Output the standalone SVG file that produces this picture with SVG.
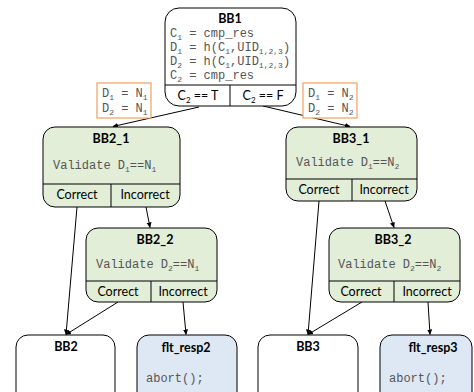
<svg xmlns="http://www.w3.org/2000/svg" width="474" height="392" viewBox="0 0 474 392">
<style>
.box{stroke:#000;stroke-width:1;fill:#fff}
.g{fill:#e2eed8}
.b{fill:#dee8f5}
.ln{stroke:#000;stroke-width:1;fill:none}
.or{fill:#fff;stroke:#f0a060;stroke-width:1.2}
.t{font-family:Lato,"Liberation Sans",sans-serif;font-size:12.5px;fill:#000;text-anchor:middle}
.tb{font-weight:bold}
.m{font-family:"Liberation Mono","Courier New",monospace;font-size:12px;fill:#555}
.s{font-size:8px}
.e{stroke:#000;stroke-width:1;fill:none;marker-end:url(#ah)}
</style>
<defs>
<marker id="ah" markerWidth="6" markerHeight="6" refX="5" refY="3" orient="auto" markerUnits="userSpaceOnUse">
<path d="M0,0.5 L5.5,3 L0,5.5 Z" fill="#000"/>
</marker>
</defs>
<g id="connectors">
<path class="e" d="M199,107 L113,126.5"/>
<path class="e" d="M263,106 L350,126.5"/>
<path class="e" d="M77,207 L66,334.5"/>
<path class="e" d="M146,207 L150,227.5"/>
<path class="e" d="M118,302 L66,334.5"/>
<path class="e" d="M183,302 L186,334.5"/>
<path class="e" d="M319,201 L308,334.5"/>
<path class="e" d="M385,201 L394,227.5"/>
<path class="e" d="M362,302 L308,334.5"/>
<path class="e" d="M428,302 L430,334.5"/>
</g>
<g id="BB1">
<rect class="box" x="165" y="8" width="131" height="98" rx="14"/>
<path class="ln" d="M165,85 H296 M230,85 V106"/>
<text class="t tb" x="230" y="23">BB1</text>
<text class="m" x="170" y="37">C<tspan class="s" dy="3">1</tspan><tspan dy="-3"> = cmp_res</tspan></text>
<text class="m" x="170" y="51">D<tspan class="s" dy="3">1</tspan><tspan dy="-3"> = h(C</tspan><tspan class="s" dy="3">1</tspan><tspan dy="-3">,UID</tspan><tspan class="s" dy="3">1,2,3</tspan><tspan dy="-3">)</tspan></text>
<text class="m" x="170" y="65">D<tspan class="s" dy="3">2</tspan><tspan dy="-3"> = h(C</tspan><tspan class="s" dy="3">1</tspan><tspan dy="-3">,UID</tspan><tspan class="s" dy="3">1,2,3</tspan><tspan dy="-3">)</tspan></text>
<text class="m" x="170" y="79">C<tspan class="s" dy="3">2</tspan><tspan dy="-3"> = cmp_res</tspan></text>
<text class="t" x="198" y="100">C<tspan class="s" dy="3">2</tspan><tspan dy="-3"> == T</tspan></text>
<text class="t" x="263" y="100">C<tspan class="s" dy="3">2</tspan><tspan dy="-3"> == F</tspan></text>
</g>
<g id="cond_left">
<rect class="or" x="97" y="83" width="54" height="35"/>
<text class="m" x="102" y="97">D<tspan class="s" dy="3">1</tspan><tspan dy="-3"> = N</tspan><tspan class="s" dy="3">1</tspan></text>
<text class="m" x="102" y="112">D<tspan class="s" dy="3">2</tspan><tspan dy="-3"> = N</tspan><tspan class="s" dy="3">1</tspan></text>
</g>
<g id="cond_right">
<rect class="or" x="303" y="83" width="54" height="35"/>
<text class="m" x="308" y="97">D<tspan class="s" dy="3">1</tspan><tspan dy="-3"> = N</tspan><tspan class="s" dy="3">2</tspan></text>
<text class="m" x="308" y="112">D<tspan class="s" dy="3">2</tspan><tspan dy="-3"> = N</tspan><tspan class="s" dy="3">2</tspan></text>
</g>
<g id="BB2_1">
<rect class="box g" x="43" y="127" width="137" height="80" rx="12"/>
<path class="ln" d="M43,184 H180 M111,184 V207"/>
<text class="t tb" x="111" y="143">BB2_1</text>
<text class="m" x="53" y="169">Validate D<tspan class="s" dy="3">1</tspan><tspan dy="-3">==N</tspan><tspan class="s" dy="3">1</tspan></text>
<text class="t" x="77" y="199">Correct</text>
<text class="t" x="145" y="199">Incorrect</text>
</g>
<g id="BB3_1">
<rect class="box g" x="286" y="127" width="131" height="74" rx="12"/>
<path class="ln" d="M286,179 H417 M352,179 V201"/>
<text class="t tb" x="351" y="143">BB3_1</text>
<text class="m" x="296" y="166">Validate D<tspan class="s" dy="3">1</tspan><tspan dy="-3">==N</tspan><tspan class="s" dy="3">2</tspan></text>
<text class="t" x="319" y="194">Correct</text>
<text class="t" x="384" y="194">Incorrect</text>
</g>
<g id="BB2_2">
<rect class="box g" x="86" y="228" width="131" height="74" rx="12"/>
<path class="ln" d="M86,281 H217 M151,281 V302"/>
<text class="t tb" x="155" y="244">BB2_2</text>
<text class="m" x="96" y="268">Validate D<tspan class="s" dy="3">2</tspan><tspan dy="-3">==N</tspan><tspan class="s" dy="3">1</tspan></text>
<text class="t" x="118" y="296">Correct</text>
<text class="t" x="183" y="296">Incorrect</text>
</g>
<g id="BB3_2">
<rect class="box g" x="329" y="228" width="131" height="74" rx="12"/>
<path class="ln" d="M329,281 H460 M394,281 V302"/>
<text class="t tb" x="393" y="244">BB3_2</text>
<text class="m" x="338" y="268">Validate D<tspan class="s" dy="3">2</tspan><tspan dy="-3">==N</tspan><tspan class="s" dy="3">2</tspan></text>
<text class="t" x="361" y="296">Correct</text>
<text class="t" x="427" y="296">Incorrect</text>
</g>
<g id="BB2">
<rect class="box" x="16" y="335" width="99" height="75" rx="12"/>
<text class="t tb" x="66" y="351">BB2</text>
</g>
<g id="flt_resp2">
<rect class="box b" x="137" y="335" width="100" height="75" rx="12"/>
<text class="t tb" x="186" y="352">flt_resp2</text>
<text class="m" x="146" y="382">abort();</text>
</g>
<g id="BB3">
<rect class="box" x="258" y="335" width="100" height="75" rx="12"/>
<text class="t tb" x="308" y="351">BB3</text>
</g>
<g id="flt_resp3">
<rect class="box b" x="380" y="335" width="92" height="75" rx="12"/>
<text class="t tb" x="433" y="352">flt_resp3</text>
<text class="m" x="389" y="382">abort();</text>
</g>
</svg>
